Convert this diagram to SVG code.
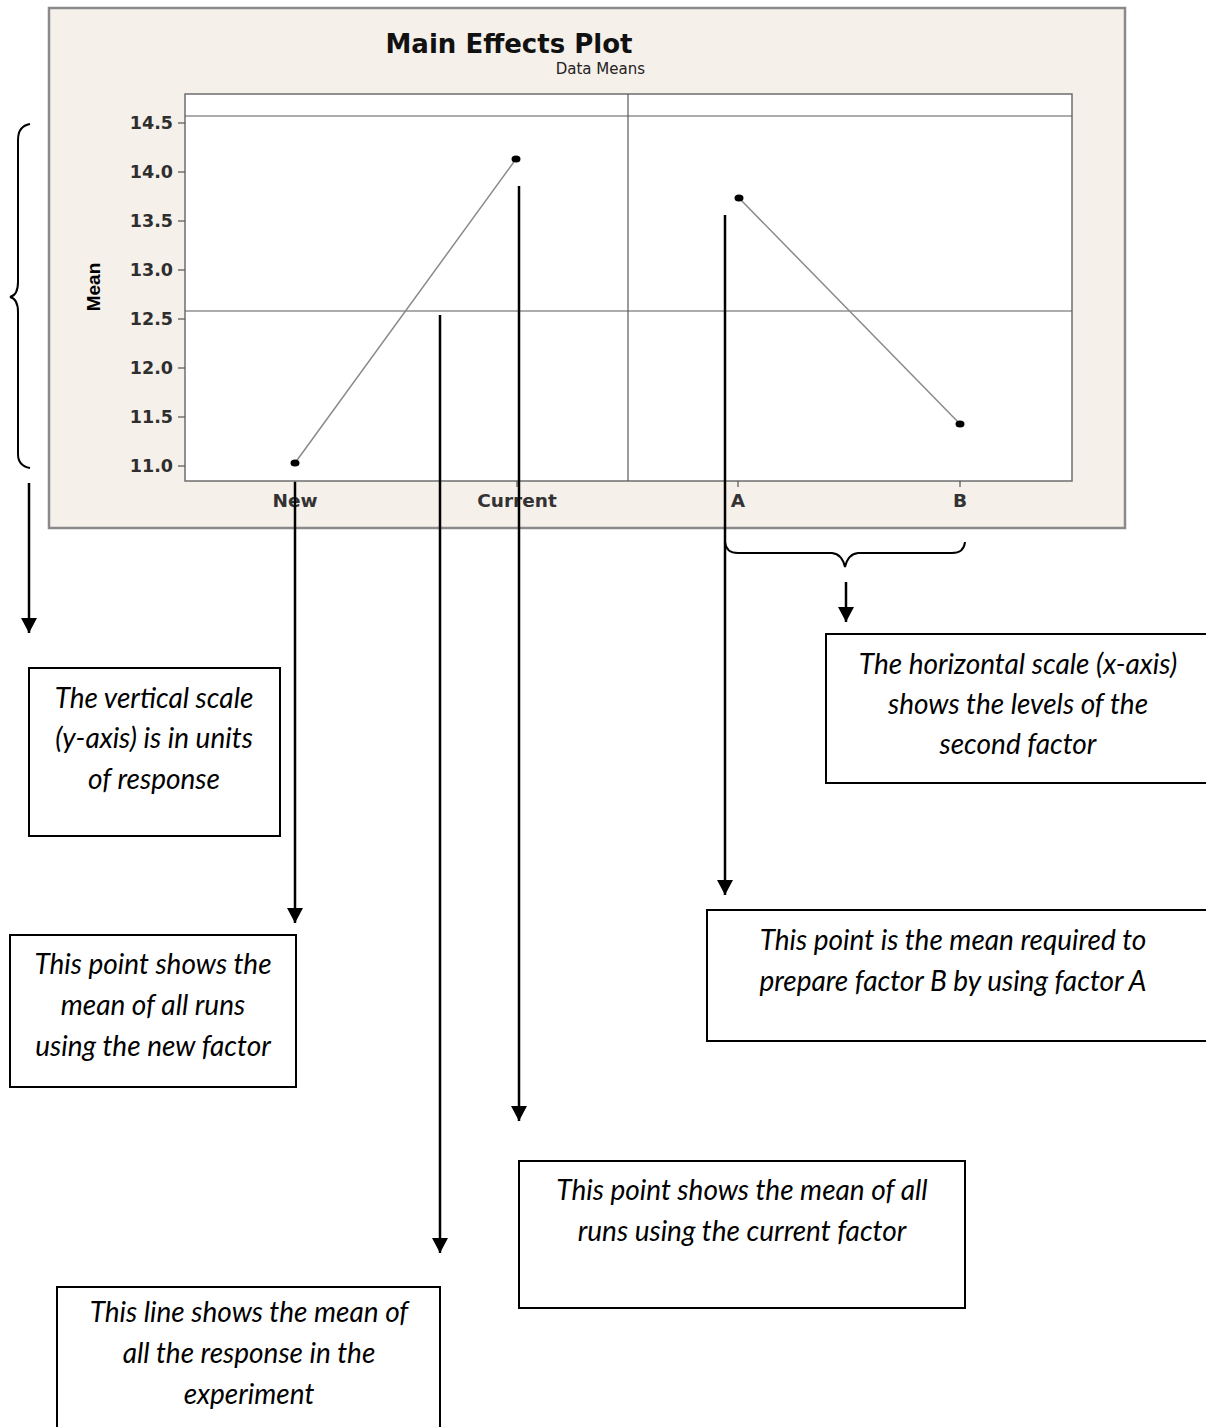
<svg xmlns="http://www.w3.org/2000/svg" width="1206" height="1427" viewBox="0 0 1206 1427">
  <style>
    .frame { fill: #f6f0ea; stroke: #8a8a8a; stroke-width: 2.5; }
    .plot { fill: #ffffff; stroke: #6e6e6e; stroke-width: 1.5; }
    .ref { stroke: #5a5a5a; stroke-width: 1.2; fill: none; }
    .tick { stroke: #555; stroke-width: 1.2; }
    .data { stroke: #8a8a8a; stroke-width: 1.5; fill: none; }
    .dot { fill: #000; }
    .title { font-family: "DejaVu Sans", sans-serif; font-weight: bold; font-size: 26px; fill: #111; }
    .sub { font-family: "DejaVu Sans", sans-serif; font-size: 15px; fill: #222; }
    .ylab { font-family: "DejaVu Sans", sans-serif; font-weight: bold; font-size: 17.5px; fill: #2e2e2e; text-anchor: end; }
    .xlab { font-family: "DejaVu Sans", sans-serif; font-weight: bold; font-size: 18.5px; fill: #333; text-anchor: middle; }
    .axis { font-family: "Liberation Sans", sans-serif; font-weight: bold; font-size: 19px; fill: #000; text-anchor: middle; }
    .box { fill: #fff; stroke: #000; stroke-width: 2; }
    .note { font-family: Lato, "Open Sans", sans-serif; font-style: italic; font-size: 28px; fill: #000; text-anchor: middle; }
    .arrow { stroke: #000; stroke-width: 2.5; fill: none; marker-end: url(#ah); }
    .brace { stroke: #000; stroke-width: 2; fill: none; }
  </style>
  <defs>
    <marker id="ah" viewBox="0 0 15 16" refX="15" refY="8" markerWidth="15" markerHeight="16" markerUnits="userSpaceOnUse" orient="auto">
      <path d="M0,0 L15,8 L0,16 z" fill="#000"/>
    </marker>
  </defs>

  <!-- Main effects chart -->
  <g id="chart">
    <rect class="frame" x="49" y="8" width="1076" height="520"/>
    <text class="title" x="509" y="53" text-anchor="middle">Main Effects Plot</text>
    <text class="sub" x="645" y="74" text-anchor="end">Data Means</text>
    <rect class="plot" x="185" y="94" width="887" height="387"/>
    <line class="ref" x1="628" y1="94" x2="628" y2="481"/>
    <line class="ref" x1="185" y1="116" x2="1072" y2="116"/>
    <line class="ref" x1="185" y1="311" x2="1072" y2="311"/>
    <!-- axis ticks -->
    <g class="tick">
      <line x1="178" y1="123" x2="185" y2="123"/>
      <line x1="178" y1="172" x2="185" y2="172"/>
      <line x1="178" y1="221" x2="185" y2="221"/>
      <line x1="178" y1="270" x2="185" y2="270"/>
      <line x1="178" y1="319" x2="185" y2="319"/>
      <line x1="178" y1="368" x2="185" y2="368"/>
      <line x1="178" y1="417" x2="185" y2="417"/>
      <line x1="178" y1="466" x2="185" y2="466"/>
      <line x1="295" y1="481" x2="295" y2="487"/>
      <line x1="517" y1="481" x2="517" y2="487"/>
      <line x1="738" y1="481" x2="738" y2="487"/>
      <line x1="960" y1="481" x2="960" y2="487"/>
    </g>
    <text class="ylab" x="173" y="129">14.5</text>
    <text class="ylab" x="173" y="178">14.0</text>
    <text class="ylab" x="173" y="227">13.5</text>
    <text class="ylab" x="173" y="276">13.0</text>
    <text class="ylab" x="173" y="325">12.5</text>
    <text class="ylab" x="173" y="374">12.0</text>
    <text class="ylab" x="173" y="423">11.5</text>
    <text class="ylab" x="173" y="472">11.0</text>
    <text class="axis" transform="translate(100,287) rotate(-90)">Mean</text>
    <text class="xlab" x="295" y="507">New</text>
    <text class="xlab" x="517" y="507">Current</text>
    <text class="xlab" x="738" y="507">A</text>
    <text class="xlab" x="960" y="507">B</text>
    <!-- factor means -->
    <polyline class="data" points="295,463 516,159"/>
    <polyline class="data" points="739,198 960,424"/>
    <ellipse class="dot" cx="295" cy="463" rx="4.5" ry="3.5"/>
    <ellipse class="dot" cx="516" cy="159" rx="4.5" ry="3.5"/>
    <ellipse class="dot" cx="739" cy="198" rx="4.5" ry="3.5"/>
    <ellipse class="dot" cx="960" cy="424" rx="4.5" ry="3.5"/>
  </g>

  <!-- Braces -->
  <g id="braces">
    <path class="brace" d="M30,124 Q18,126 18,140 L18,282 Q18,295 10,297 Q18,299 18,312 L18,454 Q18,466 30,468"/>
    <path class="brace" d="M725,542 Q726,553 738,553 L832,553 Q842,554 845,567 Q848,554 858,553 L952,553 Q964,553 965,542"/>
  </g>

  <!-- Connectors -->
  <g id="connectors">
    <line class="arrow" x1="29" y1="483" x2="29" y2="633"/>
    <line class="arrow" x1="295" y1="482" x2="295" y2="923"/>
    <line class="arrow" x1="440" y1="315" x2="440" y2="1253"/>
    <line class="arrow" x1="519" y1="186" x2="519" y2="1121"/>
    <line class="arrow" x1="725" y1="215" x2="725" y2="895"/>
    <line class="arrow" x1="846" y1="582" x2="846" y2="622"/>
  </g>

  <!-- Annotation boxes -->
  <g id="note-vertical">
    <rect class="box" x="29" y="668" width="251" height="168"/>
    <text class="note" x="154" y="708">The vertical scale</text>
    <text class="note" x="154" y="748">(y-axis) is in units</text>
    <text class="note" x="154" y="789">of response</text>
  </g>
  <g id="note-new">
    <rect class="box" x="10" y="935" width="286" height="152"/>
    <text class="note" x="153" y="974">This point shows the</text>
    <text class="note" x="153" y="1015">mean of all runs</text>
    <text class="note" x="153" y="1056">using the new factor</text>
  </g>
  <g id="note-horizontal">
    <rect class="box" x="826" y="634" width="390" height="149"/>
    <text class="note" x="1018" y="674">The horizontal scale (x-axis)</text>
    <text class="note" x="1018" y="714">shows the levels of the</text>
    <text class="note" x="1018" y="754">second factor</text>
  </g>
  <g id="note-a">
    <rect class="box" x="707" y="910" width="510" height="131"/>
    <text class="note" x="953" y="950">This point is the mean required to</text>
    <text class="note" x="953" y="991">prepare factor B by using factor A</text>
  </g>
  <g id="note-current">
    <rect class="box" x="519" y="1161" width="446" height="147"/>
    <text class="note" x="742" y="1200">This point shows the mean of all</text>
    <text class="note" x="742" y="1241">runs using the current factor</text>
  </g>
  <g id="note-mean">
    <rect class="box" x="57" y="1287" width="383" height="160"/>
    <text class="note" x="249" y="1322">This line shows the mean of</text>
    <text class="note" x="249" y="1363">all the response in the</text>
    <text class="note" x="249" y="1404">experiment</text>
  </g>
</svg>
